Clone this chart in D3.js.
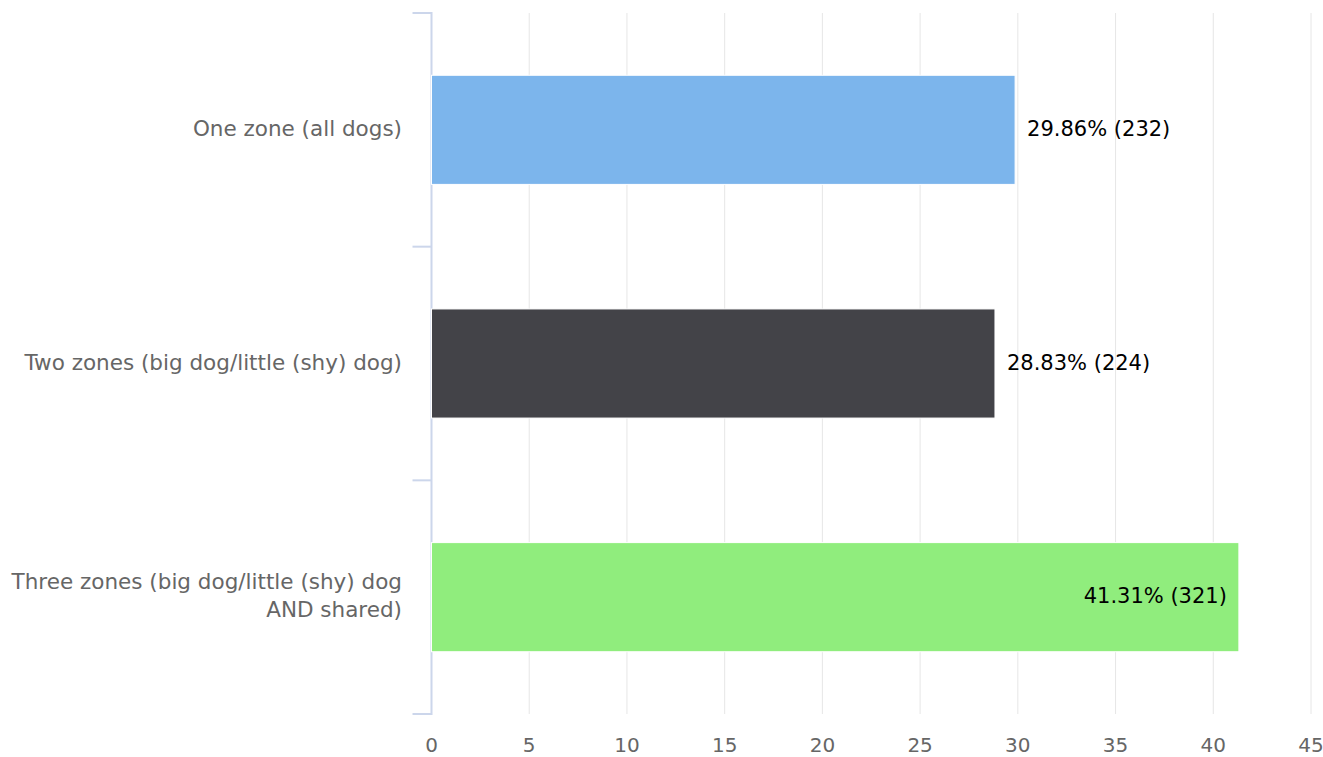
<!DOCTYPE html>
<html>
<head>
<meta charset="utf-8">
<script src="https://cdn.jsdelivr.net/npm/d3@7"></script>
<style>
  body { margin: 0; background: #fff; }
  text { font-family: "DejaVu Sans", sans-serif; }
</style>
</head>
<body>
<div id="chart"></div>
<script>
// chart data
const categories = [
  ["One zone (all dogs)"],
  ["Two zones (big dog/little (shy) dog)"],
  ["Three zones (big dog/little (shy) dog", "AND shared)"]
];
const percents = [29.86, 28.83, 41.31];
const counts = [232, 224, 321];
const barColors = ["#7cb5ec", "#434348", "#90ed7d"];
const xTicks = [0, 5, 10, 15, 20, 25, 30, 35, 40, 45];

const width = 1323, height = 757;
const plotLeft = 431.5, plotRight = 1311, plotTop = 13, plotBottom = 714;

const svg = d3.select("#chart").append("svg")
  .attr("width", width)
  .attr("height", height);

const x = d3.scaleLinear().domain([0, 45]).range([plotLeft, plotRight]);
const y = d3.scaleBand().domain(d3.range(categories.length))
  .range([plotTop, plotBottom])
  .paddingInner(0.533)
  .paddingOuter(0.2665);

// vertical gridlines
svg.append("g").selectAll("line")
  .data(xTicks.slice(1))
  .enter().append("line")
  .attr("x1", d => x(d)).attr("x2", d => x(d))
  .attr("y1", plotTop).attr("y2", plotBottom)
  .attr("stroke", "#e6e6e6")
  .attr("stroke-width", 1);

// x axis labels (no axis line, highcharts style)
svg.append("g").selectAll("text")
  .data(xTicks)
  .enter().append("text")
  .attr("x", d => x(d))
  .attr("y", 752)
  .attr("text-anchor", "middle")
  .attr("fill", "#666666")
  .style("font-size", "20px")
  .text(d => d);

// category axis line + ticks at band edges
const step = (plotBottom - plotTop) / categories.length;
svg.append("line")
  .attr("x1", plotLeft).attr("x2", plotLeft)
  .attr("y1", plotTop - 1).attr("y2", plotBottom + 1)
  .attr("stroke", "#ccd6eb").attr("stroke-width", 2);
svg.append("g").selectAll("line")
  .data(d3.range(categories.length + 1))
  .enter().append("line")
  .attr("x1", plotLeft - 19).attr("x2", plotLeft)
  .attr("y1", d => plotTop + d * step).attr("y2", d => plotTop + d * step)
  .attr("stroke", "#ccd6eb").attr("stroke-width", 2);

// category labels
const catLabel = svg.append("g").selectAll("text")
  .data(categories)
  .enter().append("text")
  .attr("text-anchor", "end")
  .attr("fill", "#666666")
  .style("font-size", "21.5px")
  .attr("y", (d, i) => y(i) + y.bandwidth() / 2 - (d.length - 1) * 14 + 6);
catLabel.selectAll("tspan")
  .data(d => d)
  .enter().append("tspan")
  .attr("x", 402)
  .attr("dy", (d, j) => j === 0 ? 0 : 28)
  .text(d => d);

// bars
svg.append("g").selectAll("rect")
  .data(percents)
  .enter().append("rect")
  .attr("x", x(0))
  .attr("y", (d, i) => y(i))
  .attr("width", d => x(d) - x(0))
  .attr("height", y.bandwidth())
  .attr("fill", (d, i) => barColors[i])
  .attr("stroke", "#ffffff")
  .attr("stroke-width", 1);

// value labels: outside, unless they would not fit
svg.append("g").selectAll("text")
  .data(percents)
  .enter().append("text")
  .attr("y", (d, i) => y(i) + y.bandwidth() / 2 + 6)
  .attr("x", d => d > 40 ? x(d) - 12 : x(d) + 12)
  .attr("text-anchor", d => d > 40 ? "end" : "start")
  .attr("fill", "#000000")
  .style("font-size", "21px")
  .text((d, i) => d.toFixed(2) + "% (" + counts[i] + ")");
</script>
</body>
</html>
